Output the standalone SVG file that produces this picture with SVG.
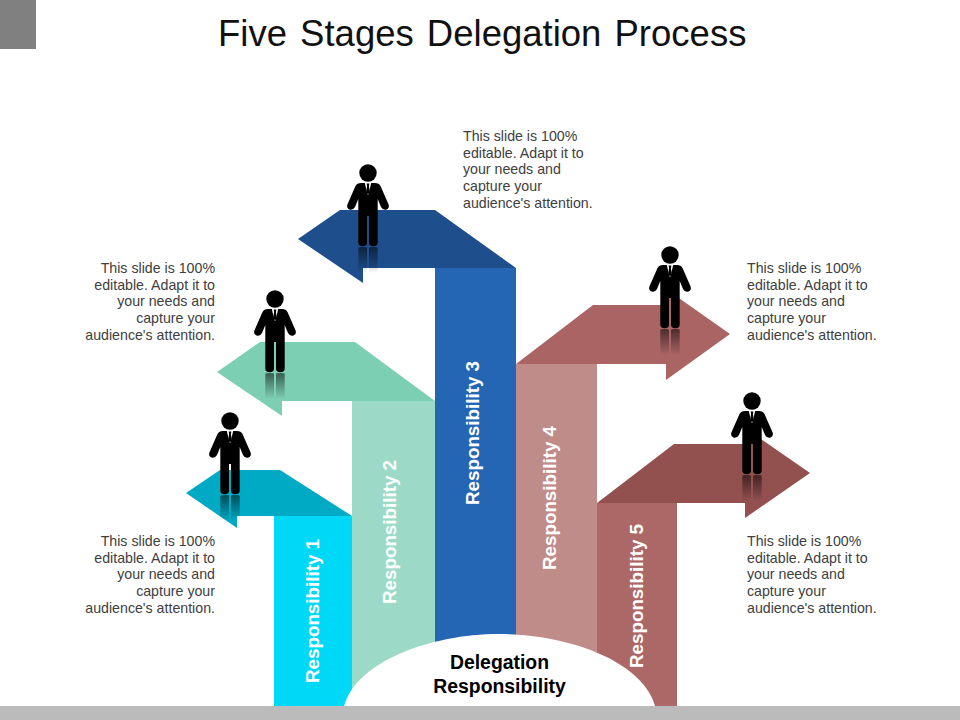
<svg xmlns="http://www.w3.org/2000/svg" width="960" height="720" viewBox="0 0 960 720">
<style>
.t{font-family:"Liberation Sans",Arial,sans-serif}
.title{font-size:36.5px;fill:#111;word-spacing:3px}
.b{font-size:14.2px;fill:#404040}
.r{text-anchor:end}
.l{font-size:18.8px;font-weight:bold;fill:#fff;text-anchor:middle}
.c{font-size:19.4px;font-weight:bold;fill:#000;text-anchor:middle}
</style>
<defs>
<linearGradient id="fade" x1="0" y1="0" x2="0" y2="1"><stop offset="0" stop-color="#000" stop-opacity=".55"/><stop offset="1" stop-color="#000" stop-opacity="0"/></linearGradient>
<g id="man">
<circle cx="0" cy="0" r="8.7" fill="#000"/>
<path fill="#000" d="M-7 10L7 10Q11 10 12.5 13L20.6 31.5Q21.8 35 18.5 36.5Q14.8 37.5 13 34L9.7 26L9.7 69.5Q9.7 73.3 5.3 73.3Q1 73.3 1 69.5L1 43L-1 43L-1 69.5Q-1 73.3 -5.3 73.3Q-9.7 73.3 -9.7 69.5L-9.7 26L-13 34Q-14.8 37.5 -18.5 36.5Q-21.8 35 -20.6 31.5L-12.5 13Q-11 10 -7 10Z"/>
<path fill="#fff" d="M-3.2 10L3.2 10L0.3 22L-0.3 22Z"/>
<path fill="#000" d="M-1.4 10.5L1.4 10.5L0.9 13L1.7 18.5L0 22L-1.7 18.5L-0.9 13Z"/>
<path fill="url(#fade)" d="M-9.7 75Q-9.7 74 -5.3 74Q-1 74 -1 75L-1 100L-9.7 100Z"/>
<path fill="url(#fade)" d="M1 75Q1 74 5.3 74Q9.7 74 9.7 75L9.7 100L1 100Z"/>
</g>
</defs>
<rect width="960" height="720" fill="#fff"/>
<rect id="corner" x="0" y="0" width="36" height="49" fill="#808080"/>
<rect id="footer" x="0" y="706" width="960" height="14" fill="#bbbbbb"/>
<text class="t title" x="218" y="46">Five Stages Delegation Process</text>
<g id="stage-1">
<rect x="274" y="516" width="78" height="190" fill="#00d8f8"/>
<path d="M186 493L220 470L280 470L352 516L237 516L237 528Z" fill="#00a9c4"/>
</g>
<g id="stage-2">
<rect x="352" y="401" width="83" height="305" fill="#9cdac7"/>
<path d="M217 372L260 342L355 342L435 401L282 401L282 416Z" fill="#7dcfb3"/>
</g>
<g id="stage-3">
<rect x="435" y="268" width="81" height="438" fill="#2566b4"/>
<path d="M298 239L340 210L435 210L516 268L363 268L363 283Z" fill="#1f4e8c"/>
</g>
<g id="stage-4">
<rect x="516" y="364" width="81" height="342" fill="#c08c8a"/>
<path d="M516 364L593 305L666 305L666 289L730 334L666 380L666 364Z" fill="#a96463"/>
</g>
<g id="stage-5">
<rect x="597" y="503" width="80" height="203" fill="#ac6867"/>
<path d="M597 503L674 444L745 444L745 428L810 473L745 518L745 503Z" fill="#92504e"/>
</g>
<g id="hub">
<path d="M344 706C356 662 430 634 499 634C570 634 643 662 655 706Z" fill="#fff"/>
<text class="t c" x="499.5" y="669">Delegation</text>
<text class="t c" x="499.5" y="693">Responsibility</text>
</g>
<g id="labels">
<text class="t l" transform="translate(318.5,611) rotate(-90)">Responsibility 1</text>
<text class="t l" transform="translate(396,532) rotate(-90)">Responsibility 2</text>
<text class="t l" transform="translate(479,433) rotate(-90)">Responsibility 3</text>
<text class="t l" transform="translate(556,498) rotate(-90)">Responsibility 4</text>
<text class="t l" transform="translate(643,596) rotate(-90)">Responsibility 5</text>
</g>
<g id="people">
<use href="#man" x="230" y="421"/>
<use href="#man" x="275" y="299"/>
<use href="#man" x="368" y="173"/>
<use href="#man" x="670" y="255"/>
<use href="#man" x="752" y="401"/>
</g>
<g id="note-1" class="t b r"><text x="215" y="546">This slide is 100%</text><text x="215" y="563">editable. Adapt it to</text><text x="215" y="579">your needs and</text><text x="215" y="596">capture your</text><text x="215" y="613">audience's attention.</text></g>
<g id="note-2" class="t b r"><text x="215" y="273">This slide is 100%</text><text x="215" y="290">editable. Adapt it to</text><text x="215" y="306">your needs and</text><text x="215" y="323">capture your</text><text x="215" y="340">audience's attention.</text></g>
<g id="note-3" class="t b"><text x="463" y="141">This slide is 100%</text><text x="463" y="158">editable. Adapt it to</text><text x="463" y="174">your needs and</text><text x="463" y="191">capture your</text><text x="463" y="208">audience's attention.</text></g>
<g id="note-4" class="t b"><text x="747" y="273">This slide is 100%</text><text x="747" y="290">editable. Adapt it to</text><text x="747" y="306">your needs and</text><text x="747" y="323">capture your</text><text x="747" y="340">audience's attention.</text></g>
<g id="note-5" class="t b"><text x="747" y="546">This slide is 100%</text><text x="747" y="563">editable. Adapt it to</text><text x="747" y="579">your needs and</text><text x="747" y="596">capture your</text><text x="747" y="613">audience's attention.</text></g>
</svg>
